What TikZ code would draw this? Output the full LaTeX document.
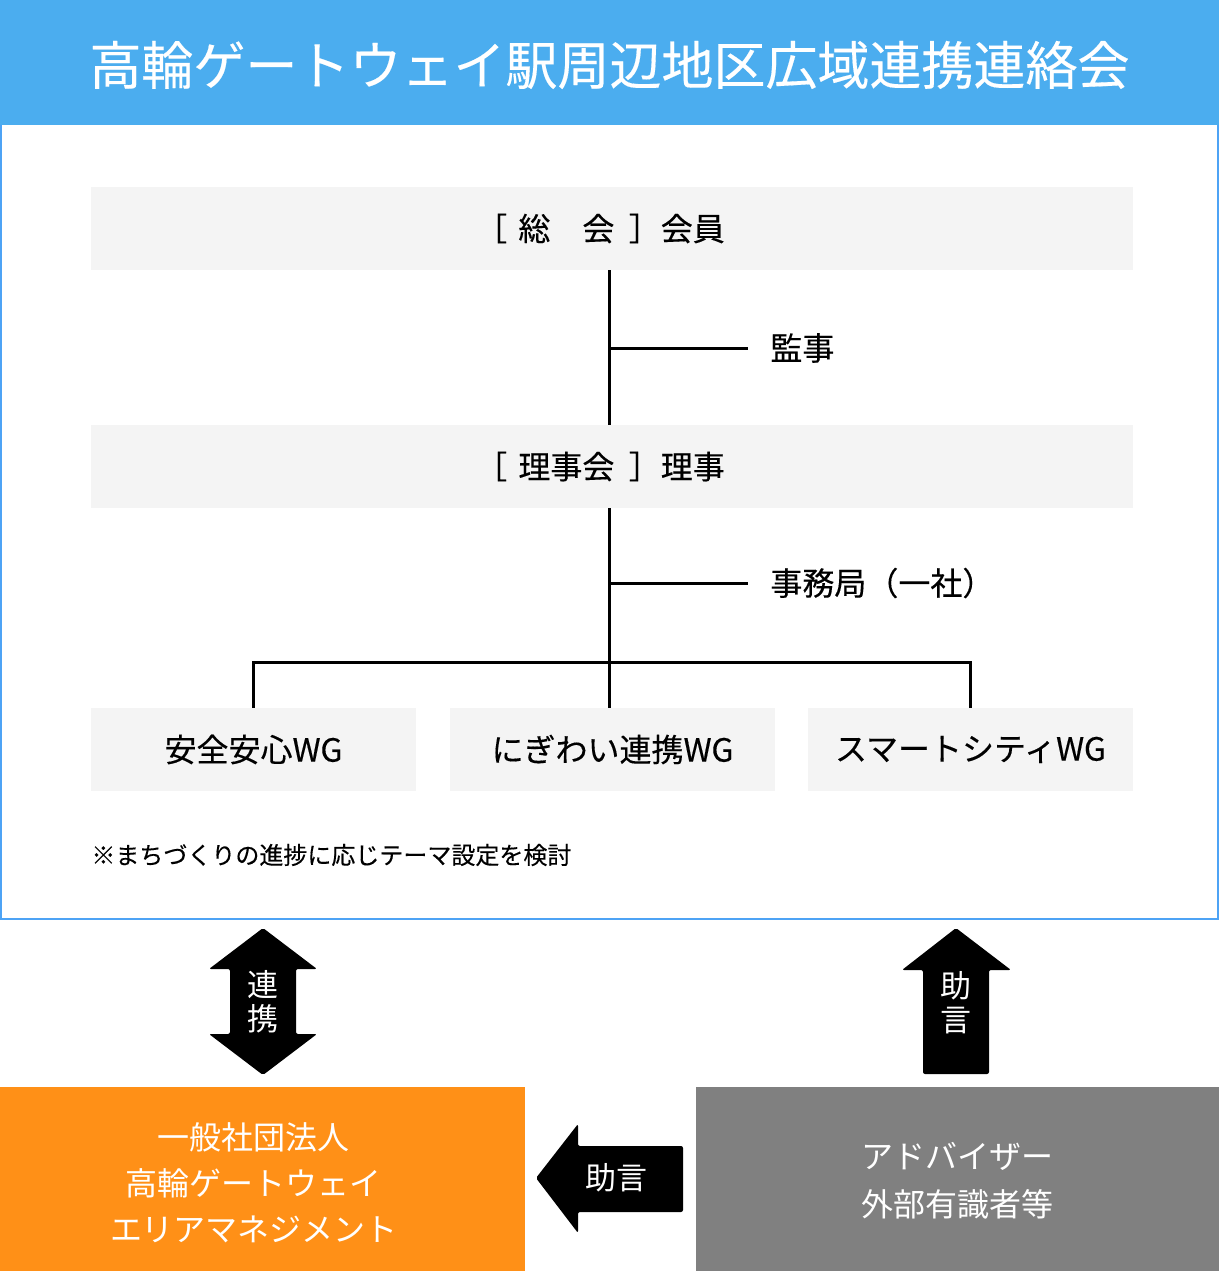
\documentclass[tikz,border=0pt]{standalone}
\usepackage{fontspec}
\setmainfont{Noto Sans CJK JP}
\newfontfamily\medfont{Noto Sans CJK JP}[FakeBold=0.3]
\usetikzlibrary{positioning}
\definecolor{headblue}{RGB}{75,173,239}
\definecolor{frameblue}{RGB}{77,163,245}
\definecolor{boxgray}{RGB}{244,244,244}
\definecolor{orgorange}{RGB}{255,144,23}
\definecolor{advgray}{RGB}{128,128,128}
\tikzset{
  graybox/.style={fill=boxgray, minimum height=41.5pt, inner sep=0pt, font=\medfont\fontsize{16pt}{20pt}\selectfont},
  sidelabel/.style={anchor=west, inner xsep=11pt, inner ysep=0pt, font=\medfont\fontsize{16pt}{20pt}\selectfont},
  conn/.style={line width=1.5pt},
  bigarrow/.style={fill=black, rounded corners=1pt},
  arrowtext/.style={text=white, align=center, inner sep=0pt, font=\fontsize{15.5pt}{17pt}\selectfont},
  bottombox/.style={minimum height=92pt, inner sep=0pt},
  bottomtext/.style={text=white, align=center, inner sep=0pt, font=\fontsize{16pt}{23pt}\selectfont}
}

\begin{document}
\begin{tikzpicture}[x=0.5pt,y=-0.5pt]
\useasboundingbox (0,0) rectangle (1219,1271);
% header and frame
\fill[headblue] (0,0) rectangle (1219,125);
\node[text=white, font=\medfont\fontsize{26pt}{30pt}\selectfont] (title) at (609.5,65) {高輪ゲートウェイ駅周辺地区広域連携連絡会};
\draw[frameblue, line width=1.2pt] (1.2,125) -- (1.2,919) -- (1217.8,919) -- (1217.8,125);
% boxes
\node[graybox, minimum width=521pt] (soukai) at (612,228.5) {［\hspace{0.35em}総　会\hspace{0.45em}］会員\hspace*{12pt}};
\node[graybox, minimum width=521pt] (rijikai) at (612,466.5) {［\hspace{0.35em}理事会\hspace{0.45em}］理事\hspace*{12pt}};
\node[graybox, minimum width=162.5pt] (wg1) at (253.5,749.5) {\raisebox{-1pt}{安全安心WG}};
\node[graybox, minimum width=162.5pt] (wg2) at (612.5,749.5) {\raisebox{-1pt}{にぎわい連携WG}};
\node[graybox, minimum width=162.5pt] (wg3) at (970.5,749.5) {\raisebox{-1pt}{スマートシティWG}};
\node[sidelabel] (kanji) at (748,348) {監事};
\node[sidelabel] (jimu) at (748,583) {事務局（一社）};
\node[anchor=west, inner sep=0pt, font=\medfont\fontsize{12pt}{14pt}\selectfont] (note) at (91,855) {※まちづくりの進捗に応じテーマ設定を検討};
% lines
\coordinate (j1) at (609,348);
\coordinate (j2) at (609,583);
\coordinate (j3) at (609,662);
\draw[conn] (soukai.south -| j1) -- (rijikai.north -| j1);
\draw[conn] (j1) -- (kanji.west);
\draw[conn] (rijikai.south -| j2) -- (wg2.north -| j2);
\draw[conn] (j2) -- (jimu.west);
\draw[conn] (wg1.north) |- (j3) -| (wg3.north);
% bottom boxes
\node[bottombox, fill=orgorange, minimum width=262.5pt] (tgm) at (262.5,1179) {};
\node[bottomtext] (tgmtext) at (254,1183) {一般社団法人\\高輪ゲートウェイ\\エリアマネジメント};
\node[bottombox, fill=advgray, minimum width=261.5pt] (adv) at (957.5,1179) {};
\node[bottomtext, font=\fontsize{16pt}{24pt}\selectfont] (advtext) at (957.5,1181) {アドバイザー\\外部有識者等};
% big arrows
\fill[bigarrow] (263,928) -- (317,969) -- (296,969) -- (296,1034) -- (317,1034) -- (263,1075)
  -- (209,1034) -- (230,1034) -- (230,969) -- (209,969) -- cycle;
\node[arrowtext] (renkei) at (263,1002) {連\\携};
\fill[bigarrow] (956,928) -- (1011,970) -- (989,970) -- (989,1074) -- (923,1074) -- (923,970) -- (902,970) -- cycle;
\node[arrowtext] (jogen1) at (956,1003) {助\\言};
\fill[bigarrow] (536,1178) -- (578,1124) -- (578,1146) -- (683,1146) -- (683,1212) -- (578,1212) -- (578,1233) -- cycle;
\node[arrowtext] (jogen2) at (616,1178) {助言};
\end{tikzpicture}
\end{document}
